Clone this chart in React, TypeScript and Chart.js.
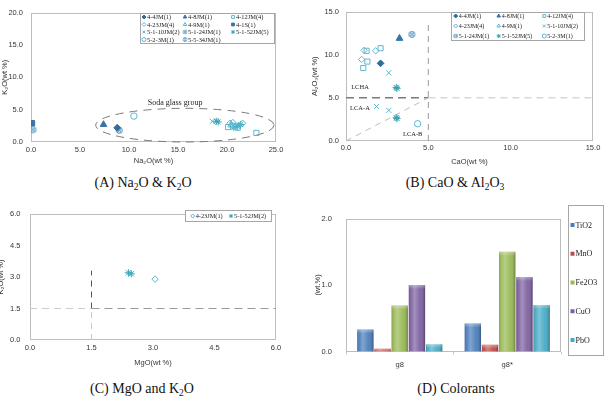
import React, { useEffect, useRef } from 'react';
import { Chart, registerables } from 'chart.js';
import { drawPoint } from 'chart.js/helpers';

Chart.register(...registerables);

const SANS = "Arial, 'Liberation Sans', Helvetica, sans-serif";
const SERIF = "'Times New Roman', 'Liberation Serif', Times, serif";
const INK = '#353535';
const FRAME = '#bdbdbd';

// ---------- (A) Na2O vs K2O, wt % ----------
const naK_4_4JM = [[8.8, 2.2]];
const naK_4_8JM = [[7.4, 2.7]];
const naK_4_12JM = [[23.0, 1.4], [20.1, 2.3], [20.6, 2.4], [21.1, 2.2]];
const naK_4_23JM = [[20.3, 2.9], [20.6, 3.0], [21.6, 2.9], [20.9, 2.5]];
const naK_4_9M = [[20.4, 2.6]];
const naK_4_1S = [[0.1, 2.9]];
const naK_5_1_10JM = [[18.5, 3.2], [21.0, 2.6]];
const naK_5_1_24JM = [[9.0, 1.8]];
const naK_5_1_52JM = [[18.9, 3.2], [19.1, 3.1], [20.7, 2.3], [21.1, 2.4], [21.4, 2.7]];
const naK_5_2_3M = [[10.5, 4.0]];
const naK_5_5_34JM = [[0.2, 1.9]];

const sodaGroupCenter = [15.7, 2.6];
const sodaGroupRadii = [9.1, 2.6];
const sodaGroupLabel = ['Soda glass group', 14.7, 6.0];

// ---------- (B) CaO vs Al2O3, wt % ----------
const caAl_4_4JM = [[2.1, 9.0]];
const caAl_4_8JM = [[3.25, 11.9]];
const caAl_4_12JM = [[2.1, 10.75], [1.25, 10.45], [1.3, 9.2], [1.05, 8.45]];
const caAl_4_23JM = [[1.1, 10.5], [1.8, 10.45], [0.95, 9.45]];
const caAl_4_9M = [[3.25, 11.85]];
const caAl_5_1_10JM = [[2.6, 7.9], [1.85, 4.0], [2.6, 3.55]];
const caAl_5_1_24JM = [[4.0, 12.35]];
const caAl_5_1_52JM = [[3.05, 6.2], [3.1, 6.1], [3.05, 2.7], [3.1, 2.6]];
const caAl_5_2_3M = [[4.35, 2.0]];

const caoLimit = [[5, 0], [5, 13.5]];
const al2o3LimitLow = [[0, 5], [5, 5]];
const al2o3LimitHigh = [[5, 5], [15, 5]];
const lcaDivider = [[0, 0], [5, 5]];
const lcaRegionLabels = [['LCHA', 0.85, 6.2], ['LCA-A', 0.85, 3.8], ['LCA-B', 4.05, 0.8]];

// ---------- (C) MgO vs K2O, wt % ----------
const mgK_4_23JM = [[3.05, 2.9]];
const mgK_5_1_52JM = [[2.4, 3.2], [2.47, 3.15]];

const mgoLimitLow = [[1.5, 0], [1.5, 1.5]];
const mgoLimitHigh = [[1.5, 1.5], [1.5, 3.3]];
const k2oLimitLow = [[0, 1.5], [1.5, 1.5]];
const k2oLimitHigh = [[1.5, 1.5], [6, 1.5]];

// ---------- (D) Colorants, wt % ----------
const colorantSamples = ['g8', 'g8*'];
const tio2 = [0.33, 0.42];
const mno = [0.04, 0.1];
const fe2o3 = [0.69, 1.5];
const cuo = [1.0, 1.12];
const pbo = [0.11, 0.7];

// ---------- marker styles ----------
const DEEP = '#2f6c9e';
const STEEL = '#3b72a8';
const MID = '#4a8fbf';
const PALE = '#5db6cf';
const TEAL = '#37a3b3';

function crossedCircle(color: string, r: number) {
  const s = Math.ceil(r * 2 + 3);
  const c = document.createElement('canvas');
  c.width = s;
  c.height = s;
  const g = c.getContext('2d')!;
  const m = s / 2;
  g.strokeStyle = color;
  g.fillStyle = 'rgba(120,180,210,0.35)';
  g.lineWidth = 1;
  g.beginPath();
  g.arc(m, m, r, 0, Math.PI * 2);
  g.fill();
  g.stroke();
  const d = r * 0.68;
  g.beginPath();
  g.moveTo(m - d, m - d);
  g.lineTo(m + d, m + d);
  g.moveTo(m + d, m - d);
  g.lineTo(m - d, m + d);
  g.stroke();
  return c;
}

type Marker = { style: any; filled: boolean; color: string; r: number };

function markerFor(label: string): Marker {
  const key = label.replace(/\(\d+\)$/, '');
  switch (key) {
    case '4-4JM': return { style: 'rectRot', filled: true, color: DEEP, r: 3.4 };
    case '4-8JM': return { style: 'triangle', filled: true, color: STEEL, r: 3.8 };
    case '4-12JM': return { style: 'rect', filled: false, color: PALE, r: 3.6 };
    case '4-23JM': return { style: 'rectRot', filled: false, color: PALE, r: 3.2 };
    case '4-9M': return { style: 'triangle', filled: false, color: PALE, r: 3.6 };
    case '4-1S': return { style: 'rect', filled: true, color: STEEL, r: 3.8 };
    case '5-1-10JM': return { style: 'crossRot', filled: false, color: PALE, r: 3.6 };
    case '5-1-24JM': return { style: crossedCircle(MID, 3), filled: false, color: MID, r: 3.5 };
    case '5-1-52JM': return { style: 'star', filled: false, color: TEAL, r: 3.6 };
    case '5-2-3M': return { style: 'circle', filled: false, color: PALE, r: 3.2 };
    default: return { style: crossedCircle(MID, 3), filled: false, color: MID, r: 3.5 };
  }
}

function scatterSet(label: string, pts: number[][]) {
  const m = markerFor(label);
  return {
    label,
    data: pts.map(([x, y]) => ({ x, y })),
    pointStyle: m.style,
    pointRadius: m.r,
    pointBorderWidth: 1,
    pointBorderColor: m.color,
    pointBackgroundColor: m.filled ? m.color : 'rgba(255,255,255,0)',
    showLine: false,
  };
}

// ---------- plugins ----------
const plotFrame = {
  id: 'plotFrame',
  beforeDatasetsDraw(chart: any) {
    const { ctx, chartArea: a } = chart;
    const x0 = Math.round(a.left) + 0.5;
    const y0 = Math.round(a.top) + 0.5;
    const x1 = Math.round(a.right) - 0.5;
    const y1 = Math.round(a.bottom) - 0.5;
    ctx.save();
    ctx.strokeStyle = FRAME;
    ctx.lineWidth = 1;
    ctx.strokeRect(x0, y0, x1 - x0, y1 - y0);
    ctx.restore();
  },
};

type Seg = { pts: number[][]; color: string; width: number; dash: number[] };

function dashedSegments(segs: Seg[]) {
  return {
    id: 'dashedSegments',
    beforeDatasetsDraw(chart: any) {
      const { ctx, scales } = chart;
      ctx.save();
      segs.forEach((s) => {
        ctx.strokeStyle = s.color;
        ctx.lineWidth = s.width;
        ctx.setLineDash(s.dash);
        ctx.beginPath();
        ctx.moveTo(scales.x.getPixelForValue(s.pts[0][0]), scales.y.getPixelForValue(s.pts[0][1]));
        ctx.lineTo(scales.x.getPixelForValue(s.pts[1][0]), scales.y.getPixelForValue(s.pts[1][1]));
        ctx.stroke();
      });
      ctx.restore();
    },
  };
}

function dashedEllipse(center: number[], radii: number[]) {
  return {
    id: 'dashedEllipse',
    beforeDatasetsDraw(chart: any) {
      const { ctx, scales } = chart;
      const cx = scales.x.getPixelForValue(center[0]);
      const cy = scales.y.getPixelForValue(center[1]);
      const rx = Math.abs(scales.x.getPixelForValue(center[0] + radii[0]) - cx);
      const ry = Math.abs(scales.y.getPixelForValue(center[1] + radii[1]) - cy);
      ctx.save();
      ctx.strokeStyle = '#7a7a7a';
      ctx.lineWidth = 1;
      ctx.setLineDash([8, 6]);
      ctx.beginPath();
      ctx.ellipse(cx, cy, rx, ry, 0, 0, Math.PI * 2);
      ctx.stroke();
      ctx.restore();
    },
  };
}

function dataLabels(items: any[], size: number) {
  return {
    id: 'dataLabels',
    afterDatasetsDraw(chart: any) {
      const { ctx, scales } = chart;
      ctx.save();
      ctx.font = `${size}px ${SERIF}`;
      ctx.fillStyle = '#222';
      ctx.textAlign = 'center';
      ctx.textBaseline = 'middle';
      items.forEach(([t, x, y]) => ctx.fillText(t, scales.x.getPixelForValue(x), scales.y.getPixelForValue(y)));
      ctx.restore();
    },
  };
}

type LegendLayout = {
  box: number[];
  cols: number[];
  rows: number[];
  font: number;
  gap: number;
  marker: number;
};

function gridLegend(L: LegendLayout, bars = false) {
  return {
    id: 'gridLegend',
    afterDatasetsDraw(chart: any) {
      const { ctx } = chart;
      const [x1, y1, x2, y2] = L.box;
      ctx.save();
      ctx.fillStyle = '#fff';
      ctx.fillRect(x1, y1, x2 - x1, y2 - y1);
      ctx.strokeStyle = '#a6a6a6';
      ctx.lineWidth = 1;
      ctx.strokeRect(x1 + 0.5, y1 + 0.5, x2 - x1 - 1, y2 - y1 - 1);
      ctx.font = `${L.font}px ${SERIF}`;
      ctx.textBaseline = 'middle';
      ctx.textAlign = 'left';
      chart.data.datasets.forEach((ds: any, i: number) => {
        const cx = bars ? L.cols[0] : L.cols[i % L.cols.length];
        const cy = bars ? L.rows[i] : L.rows[Math.floor(i / L.cols.length)];
        if (bars) {
          ctx.fillStyle = ds.backgroundColor;
          ctx.fillRect(cx - L.marker, cy - L.marker, L.marker * 2, L.marker * 2);
        } else if (typeof ds.pointStyle === 'object') {
          const s = L.marker * 2 + 2;
          ctx.drawImage(ds.pointStyle, cx - s / 2, cy - s / 2, s, s);
        } else {
          ctx.strokeStyle = ds.pointBorderColor;
          ctx.fillStyle = ds.pointBackgroundColor;
          ctx.lineWidth = 1;
          drawPoint(ctx, { pointStyle: ds.pointStyle, rotation: 0, radius: L.marker, borderWidth: 1 } as any, cx, cy);
        }
        ctx.fillStyle = '#222';
        ctx.fillText(ds.label, cx + L.gap, cy + 0.5);
      });
      ctx.restore();
    },
  };
}

const barShade = {
  id: 'barShade',
  afterDatasetsDraw(chart: any) {
    const { ctx } = chart;
    chart.data.datasets.forEach((_: any, di: number) => {
      chart.getDatasetMeta(di).data.forEach((el: any) => {
        const { x, y, base, width } = el.getProps(['x', 'y', 'base', 'width'], true);
        const l = x - width / 2;
        const g = ctx.createLinearGradient(l, 0, l + width, 0);
        g.addColorStop(0, 'rgba(0,0,0,0.22)');
        g.addColorStop(0.12, 'rgba(255,255,255,0.05)');
        g.addColorStop(0.35, 'rgba(255,255,255,0.3)');
        g.addColorStop(0.7, 'rgba(255,255,255,0.05)');
        g.addColorStop(1, 'rgba(0,0,0,0.3)');
        ctx.save();
        ctx.fillStyle = g;
        ctx.fillRect(l, y, width, base - y);
        const t = ctx.createLinearGradient(0, y, 0, y + 4);
        t.addColorStop(0, 'rgba(255,255,255,0.35)');
        t.addColorStop(1, 'rgba(255,255,255,0)');
        ctx.fillStyle = t;
        ctx.fillRect(l, y, width, Math.min(4, base - y));
        ctx.restore();
      });
    });
  },
};

// ---------- axes ----------
type AxisGeom = { size: number; tickPad: number; titlePad: number };

function valueAxis(axis: 'x' | 'y', min: number, max: number, step: number, title: string, g: AxisGeom) {
  return {
    type: 'linear',
    position: axis === 'x' ? 'bottom' : 'left',
    min,
    max,
    ticks: {
      stepSize: step,
      autoSkip: false,
      maxRotation: 0,
      padding: g.tickPad,
      color: INK,
      font: { family: SANS, size: 7.5 },
      callback: (v: any) => Number(v).toFixed(1),
    },
    grid: { display: false, drawTicks: false },
    border: { display: false },
    title: {
      display: !!title,
      text: title,
      color: INK,
      font: { family: SANS, size: 7.5 },
      padding: axis === 'x' ? { top: 0, bottom: g.titlePad } : { top: g.titlePad, bottom: 0 },
    },
    afterFit: (s: any) => {
      if (axis === 'x') s.height = g.size;
      else s.width = g.size;
    },
  };
}

const baseOptions = {
  animation: false,
  responsive: false,
  devicePixelRatio: 1,
  events: [],
};

function buildA() {
  const series: [string, number[][]][] = [
    ['4-4JM(1)', naK_4_4JM], ['4-8JM(1)', naK_4_8JM], ['4-12JM(4)', naK_4_12JM],
    ['4-23JM(4)', naK_4_23JM], ['4-9M(1)', naK_4_9M], ['4-1S(1)', naK_4_1S],
    ['5-1-10JM(2)', naK_5_1_10JM], ['5-1-24JM(1)', naK_5_1_24JM], ['5-1-52JM(5)', naK_5_1_52JM],
    ['5-2-3M(1)', naK_5_2_3M], ['5-5-34JM(1)', naK_5_5_34JM],
  ];
  return {
    type: 'scatter',
    data: { datasets: series.map(([l, p]) => scatterSet(l, p)) },
    options: {
      ...baseOptions,
      layout: { padding: { top: 11, right: 24, left: 0, bottom: 0 } },
      plugins: { legend: { display: false }, tooltip: { enabled: false } },
      scales: {
        x: valueAxis('x', 0, 25, 5, 'Na₂O(wt %)', { size: 28, tickPad: 3.5, titlePad: 4.5 }),
        y: valueAxis('y', 0, 20, 5, 'K₂O(wt %)', { size: 31, tickPad: 8, titlePad: 0 }),
      },
    },
    plugins: [
      plotFrame,
      dashedEllipse(sodaGroupCenter, sodaGroupRadii),
      dataLabels([sodaGroupLabel], 8),
      gridLegend({ box: [140, 13, 275, 44], cols: [144, 185, 233], rows: [17, 24.5, 32, 39.5], font: 6.4, gap: 3, marker: 2 }),
    ],
  };
}

function buildB() {
  const series: [string, number[][]][] = [
    ['4-4JM(1)', caAl_4_4JM], ['4-8JM(1)', caAl_4_8JM], ['4-12JM(4)', caAl_4_12JM],
    ['4-23JM(4)', caAl_4_23JM], ['4-9M(1)', caAl_4_9M], ['5-1-10JM(2)', caAl_5_1_10JM],
    ['5-1-24JM(1)', caAl_5_1_24JM], ['5-1-52JM(5)', caAl_5_1_52JM], ['5-2-3M(1)', caAl_5_2_3M],
  ];
  return {
    type: 'scatter',
    data: { datasets: series.map(([l, p]) => scatterSet(l, p)) },
    options: {
      ...baseOptions,
      layout: { padding: { top: 7, right: 11, left: 0, bottom: 0 } },
      plugins: { legend: { display: false }, tooltip: { enabled: false } },
      scales: {
        x: valueAxis('x', 0, 15, 5, 'CaO(wt %)', { size: 29, tickPad: 2.5, titlePad: 3.5 }),
        y: valueAxis('y', 0, 15, 5, 'Al₂O₃(wt %)', { size: 46, tickPad: 7, titlePad: 10.5 }),
      },
    },
    plugins: [
      plotFrame,
      dashedSegments([
        { pts: caoLimit, color: '#9a9a9a', width: 1, dash: [6, 5] },
        { pts: al2o3LimitLow, color: '#7a7a7a', width: 1.5, dash: [8, 5] },
        { pts: al2o3LimitHigh, color: '#c4c4c4', width: 1, dash: [7, 5] },
        { pts: lcaDivider, color: '#bdbdbd', width: 1, dash: [6, 5] },
      ]),
      dataLabels(lcaRegionLabels, 6.5),
      gridLegend({ box: [151, 12, 285, 41], cols: [155.7, 198.7, 244.3], rows: [16, 26, 36], font: 6, gap: 3, marker: 2 }),
    ],
  };
}

function buildC() {
  const series: [string, number[][]][] = [
    ['4-23JM(1)', mgK_4_23JM], ['5-1-52JM(2)', mgK_5_1_52JM],
  ];
  return {
    type: 'scatter',
    data: { datasets: series.map(([l, p]) => scatterSet(l, p)) },
    options: {
      ...baseOptions,
      layout: { padding: { top: 5, right: 24, left: 0, bottom: 0 } },
      plugins: { legend: { display: false }, tooltip: { enabled: false } },
      scales: {
        x: valueAxis('x', 0, 6, 1.5, 'MgO(wt %)', { size: 30, tickPad: 3.5, titlePad: 2.5 }),
        y: valueAxis('y', 0, 6, 1.5, 'K₂O(wt %)', { size: 34, tickPad: 9.5, titlePad: 0.5 }),
      },
    },
    plugins: [
      plotFrame,
      dashedSegments([
        { pts: mgoLimitLow, color: '#c8c8c8', width: 1, dash: [6, 5] },
        { pts: mgoLimitHigh, color: '#555555', width: 1, dash: [6, 5] },
        { pts: k2oLimitLow, color: '#cccccc', width: 1, dash: [7, 5] },
        { pts: k2oLimitHigh, color: '#9a9a9a', width: 1, dash: [8, 5] },
      ]),
      gridLegend({ box: [189, 10, 276, 22], cols: [196.7, 235], rows: [16], font: 6.3, gap: 3, marker: 2 }),
    ],
  };
}

function buildD() {
  const series: [string, number[], string][] = [
    ['TiO2', tio2, '#4a7ebb'],
    ['MnO', mno, '#be4b48'],
    ['Fe2O3', fe2o3, '#98b954'],
    ['CuO', cuo, '#7d60a0'],
    ['PbO', pbo, '#46aac5'],
  ];
  return {
    type: 'bar',
    data: {
      labels: colorantSamples,
      datasets: series.map(([label, data, color]) => ({
        label,
        data,
        backgroundColor: color,
        borderWidth: 0,
        categoryPercentage: 0.8,
        barPercentage: 0.95,
      })),
    },
    options: {
      ...baseOptions,
      layout: { padding: { top: 6, right: 43, left: 0, bottom: 0 } },
      plugins: { legend: { display: false }, tooltip: { enabled: false } },
      scales: {
        x: {
          type: 'category',
          ticks: { color: INK, font: { family: SANS, size: 7.5 }, padding: 5.5, maxRotation: 0 },
          grid: { display: true, drawOnChartArea: false, drawTicks: true, tickLength: 3, color: '#c8c8c8', offset: true },
          border: { display: false },
          afterFit: (s: any) => { s.height = 17; },
        },
        y: valueAxis('y', 0, 2, 1, '(wt.%)', { size: 46, tickPad: 14, titlePad: 13.5 }),
      },
    },
    plugins: [
      plotFrame,
      barShade,
      gridLegend({ box: [268, 5, 304, 156], cols: [272.5], rows: [25, 53.75, 82.5, 111.25, 140], font: 8, gap: 3, marker: 2 }, true),
    ],
  };
}

function ChartCanvas({ build, left, top, width, height }: { build: () => any; left: number; top: number; width: number; height: number }) {
  const ref = useRef<HTMLCanvasElement | null>(null);
  useEffect(() => {
    if (!ref.current) return;
    const chart = new Chart(ref.current, build());
    return () => chart.destroy();
  }, [build]);
  return (
    <canvas
      ref={ref}
      width={width}
      height={height}
      style={{ position: 'absolute', left, top, width, height, display: 'block' }}
    />
  );
}

const subStyle: React.CSSProperties = { fontSize: '0.68em', verticalAlign: '-0.28em', lineHeight: 0 };

function Caption({ cx, cy, children }: { cx: number; cy: number; children: React.ReactNode }) {
  return (
    <div
      style={{
        position: 'absolute',
        left: cx - 120,
        top: cy - 9,
        width: 240,
        textAlign: 'center',
        fontFamily: SERIF,
        fontSize: 14,
        lineHeight: '18px',
        color: '#111',
        whiteSpace: 'nowrap',
      }}
    >
      {children}
    </div>
  );
}

export default function App() {
  return (
    <div
      style={{
        position: 'fixed',
        left: 0,
        top: 0,
        width: 604,
        height: 401,
        background: '#fff',
        overflow: 'hidden',
      }}
    >
      <ChartCanvas build={buildA} left={0} top={0} width={300} height={170} />
      <ChartCanvas build={buildB} left={300} top={0} width={304} height={170} />
      <ChartCanvas build={buildC} left={-4} top={200} width={304} height={170} />
      <ChartCanvas build={buildD} left={300} top={200} width={304} height={170} />
      <Caption cx={143} cy={183}>
        (A) Na<sub style={subStyle}>2</sub>O &amp; K<sub style={subStyle}>2</sub>O
      </Caption>
      <Caption cx={455} cy={183}>
        (B) CaO &amp; Al<sub style={subStyle}>2</sub>O<sub style={subStyle}>3</sub>
      </Caption>
      <Caption cx={142} cy={389}>
        (C) MgO and K<sub style={subStyle}>2</sub>O
      </Caption>
      <Caption cx={456} cy={389}>
        (D) Colorants
      </Caption>
    </div>
  );
}
